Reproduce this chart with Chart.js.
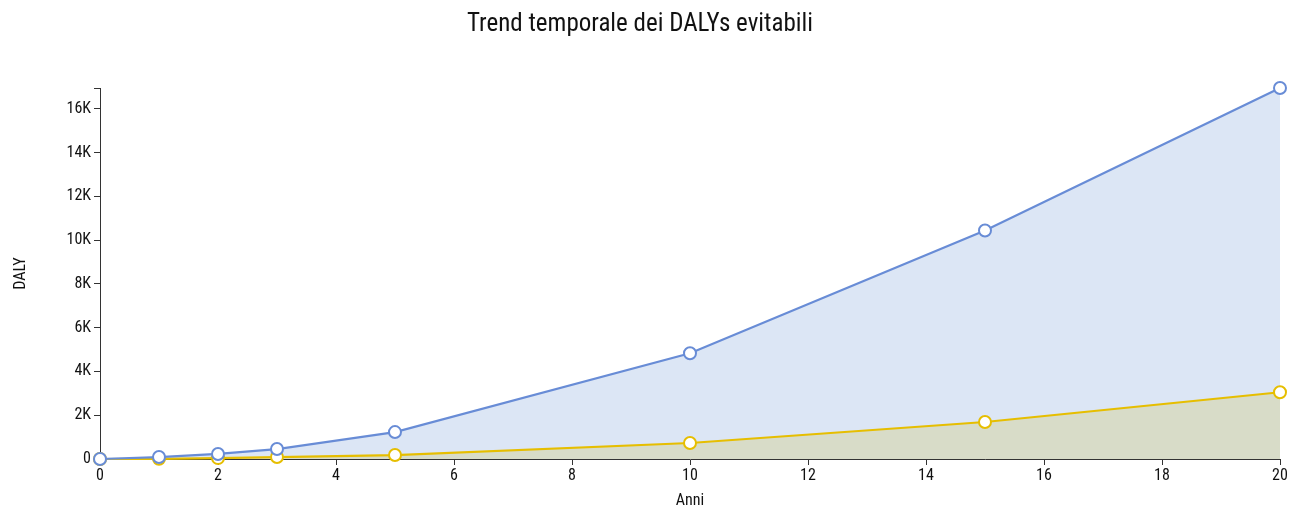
<!DOCTYPE html>
<html><head><meta charset="utf-8">
<script src="https://cdn.jsdelivr.net/npm/chart.js@4/dist/chart.umd.min.js"></script>
<style>html,body{margin:0;padding:0;background:#fff;}#wrap{width:1298px;height:508px;}</style>
</head><body><div id="wrap"><canvas id="c" width="1298" height="508"></canvas></div>
<script>
const years = [0, 1, 2, 3, 5, 10, 15, 20];
const dalyTotal = [0, 90, 230, 455, 1230, 4830, 10440, 16950];
const dalyLow = [0, 10, 40, 90, 180, 730, 1690, 3050];
const titleText = 'Trend temporale dei DALYs evitabili';
const xLabel = 'Anni';
const yLabel = 'DALY';
const xTicks = [0, 2, 4, 6, 8, 10, 12, 14, 16, 18, 20];

const FONT = "'Liberation Sans Narrow', 'Roboto Condensed', sans-serif";
const blue = 'rgb(104,140,214)';
const yellow = 'rgb(230,190,0)';

const outerTick = {
  id: 'outerTick',
  afterDraw(chart) {
    const {ctx, chartArea} = chart;
    ctx.save();
    ctx.strokeStyle = '#333';
    ctx.lineWidth = 1;
    ctx.beginPath();
    ctx.moveTo(chartArea.left - 6, chartArea.top + 0.5);
    ctx.lineTo(chartArea.left, chartArea.top + 0.5);
    ctx.stroke();
    ctx.restore();
  }
};

new Chart(document.getElementById('c'), {
  type: 'line',
  data: {
    datasets: [
      {
        data: years.map((x, i) => ({x, y: dalyTotal[i]})),
        borderColor: blue, borderWidth: 2.2,
        backgroundColor: 'rgb(220,230,245)',
        fill: 1,
        pointRadius: 6, pointBorderWidth: 2,
        pointBackgroundColor: '#fff', pointBorderColor: blue,
        tension: 0, clip: false
      },
      {
        data: years.map((x, i) => ({x, y: dalyLow[i]})),
        borderColor: yellow, borderWidth: 2.2,
        backgroundColor: 'rgb(216,220,200)',
        fill: 'origin',
        pointRadius: 6, pointBorderWidth: 2,
        pointBackgroundColor: '#fff', pointBorderColor: yellow,
        tension: 0, clip: false
      }
    ]
  },
  options: {
    responsive: false,
    animation: false,
    layout: {padding: {left: 0, right: 18, top: 0, bottom: 0}},
    plugins: {
      legend: {display: false},
      tooltip: {enabled: false},
      filler: {drawTime: 'beforeDatasetsDraw'},
      title: {
        display: true, text: titleText, color: '#111',
        font: {family: FONT, size: 25, weight: 'normal'},
        padding: {top: 10, bottom: 48}
      }
    },
    scales: {
      x: {
        type: 'linear', min: 0, max: 20,
        afterBuildTicks: s => { s.ticks = xTicks.map(v => ({value: v})); },
        afterFit: s => { s.height = 49; },
        grid: {display: true, drawOnChartArea: false, drawTicks: true, tickLength: 6, color: '#333'},
        border: {display: true, color: '#333', width: 1},
        ticks: {color: '#111', font: {family: FONT, size: 16}, padding: 1, maxRotation: 0},
        title: {display: true, text: xLabel, color: '#111', font: {family: FONT, size: 16}, padding: {top: 0, bottom: -3}}
      },
      y: {
        type: 'linear', min: 0, max: Math.max(...dalyTotal),
        afterBuildTicks: s => { const t = []; for (let v = 0; v <= s.max; v += 2000) t.push({value: v}); s.ticks = t; },
        afterFit: s => { s.width = 100; },
        grid: {display: true, drawOnChartArea: false, drawTicks: true, tickLength: 6, color: '#333'},
        border: {display: true, color: '#333', width: 1},
        ticks: {color: '#111', font: {family: FONT, size: 16}, padding: 3,
          callback: v => v === 0 ? '0' : (v / 1000) + 'K'},
        title: {display: true, text: yLabel, color: '#111', font: {family: FONT, size: 16}, padding: {top: 11, bottom: 0}}
      }
    }
  },
  plugins: [outerTick]
});
</script></body></html>
